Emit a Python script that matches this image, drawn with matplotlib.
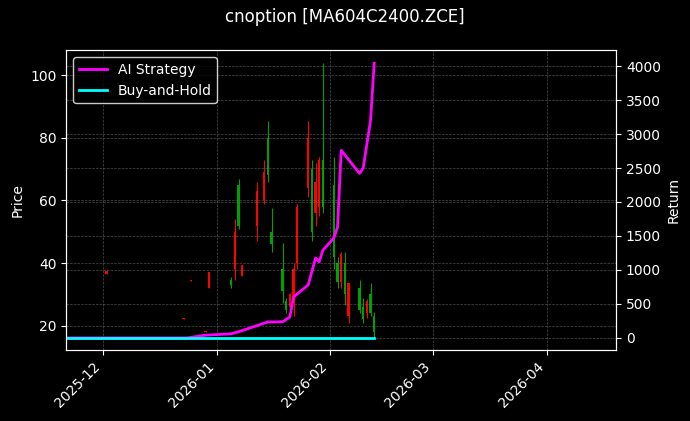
import matplotlib
matplotlib.use("Agg")
import matplotlib.pyplot as plt
import matplotlib.dates as mdates
import pandas as pd

# candles: date, open, high, low, close
candle_dates = ["2025-12-02", "2025-12-23", "2025-12-25", "2025-12-29", "2025-12-30",
                "2026-01-05", "2026-01-06", "2026-01-07", "2026-01-08", "2026-01-12",
                "2026-01-14", "2026-01-15", "2026-01-16", "2026-01-19", "2026-01-20",
                "2026-01-21", "2026-01-22", "2026-01-23", "2026-01-26", "2026-01-27",
                "2026-01-28", "2026-01-29", "2026-01-30", "2026-02-02", "2026-02-03",
                "2026-02-04", "2026-02-05", "2026-02-06", "2026-02-09", "2026-02-10",
                "2026-02-11", "2026-02-12", "2026-02-13"]
opens = [37.5, 22.5, 34.6, 18.2, 37, 33, 50, 52, 39.5, 63, 69, 68, 46, 31, 25, 30, 38, 58, 80, 50, 66, 73, 58, 42, 34, 43, 30, 33.5, 25, 22, 28, 24, 18]
highs = [37.5, 22.5, 34.6, 18.2, 37, 35.5, 54, 67, 39.5, 66, 73, 85.5, 57.5, 46.5, 29, 30.5, 40, 59, 85.5, 73, 72, 74, 104, 74, 42, 43.5, 43.5, 33.5, 34.5, 29, 28.5, 33.5, 24.5]
lows = [36.5, 22.0, 34.4, 18.0, 32, 32, 34.5, 51, 36, 47, 59, 66, 43.6, 27.4, 24, 25, 23, 38, 61, 47, 52, 55, 56, 38, 32, 32, 26.5, 21, 24, 21, 22.5, 23, 16.5]
closes = [36.5, 22.0, 34.4, 18.0, 32, 34.5, 38, 65, 36, 52, 60, 80, 50, 38, 28, 26, 28, 40, 64, 70, 56, 58, 73, 65, 40, 34, 40, 23, 32, 26, 24, 30, 23]

strat_dates = ["2025-11-21", "2025-12-24", "2025-12-29", "2026-01-05", "2026-01-07", "2026-01-12",
               "2026-01-15", "2026-01-19", "2026-01-21", "2026-01-22", "2026-01-26",
               "2026-01-28", "2026-01-29", "2026-01-30", "2026-02-02", "2026-02-03",
               "2026-02-04", "2026-02-09", "2026-02-10", "2026-02-12", "2026-02-13"]
strat_ret = [0, 0, 40, 60, 90, 180, 235, 235, 310, 600, 780, 1175, 1120, 1290, 1470, 1630, 2760, 2420, 2500, 3200, 4040]
bh_dates = ["2025-11-21", "2026-02-13"]
bh_ret = [0, 0]

plt.style.use("dark_background")
fig, ax = plt.subplots(figsize=(6.9, 4.21), dpi=100)
fig.patch.set_facecolor("black")
ax.set_facecolor("black")

cd = pd.to_datetime(candle_dates)
for d, o, h, l, c in zip(cd, opens, highs, lows, closes):
    col = "#00a000" if c > o else "#ff0000"
    ax.vlines(d, l, h, color=col, linewidth=0.8)
    ax.bar(d, abs(c - o) if abs(c - o) > 0 else 0.4, bottom=min(o, c), width=0.6,
           color=col, edgecolor=col, linewidth=0)
ax.set_ylabel("Price")
ax.set_ylim(12.3, 108)
ax.grid(True, color="gray", linestyle="--", linewidth=0.5, alpha=0.6)

ax2 = ax.twinx()
ax2.plot(pd.to_datetime(strat_dates), strat_ret, color="magenta", linewidth=2, label="AI Strategy")
ax2.plot(pd.to_datetime(bh_dates), bh_ret, color="cyan", linewidth=2, label="Buy-and-Hold")
ax2.set_ylabel("Return")
ax2.set_ylim(-176, 4235)
ax2.grid(True, color="gray", linestyle="--", linewidth=0.5, alpha=0.6)
ax2.legend(loc="upper left", facecolor="black", edgecolor="white")

ax.set_xlim(pd.Timestamp("2025-11-21"), pd.Timestamp("2026-04-20"))
ax.xaxis.set_major_locator(mdates.MonthLocator())
ax.xaxis.set_major_formatter(mdates.DateFormatter("%Y-%m"))
plt.setp(ax.get_xticklabels(), rotation=45, ha="right")

fig.suptitle("cnoption [MA604C2400.ZCE]")
fig.subplots_adjust(left=0.096, right=0.893, top=0.881, bottom=0.169)
fig.savefig("out.png", dpi=100)
